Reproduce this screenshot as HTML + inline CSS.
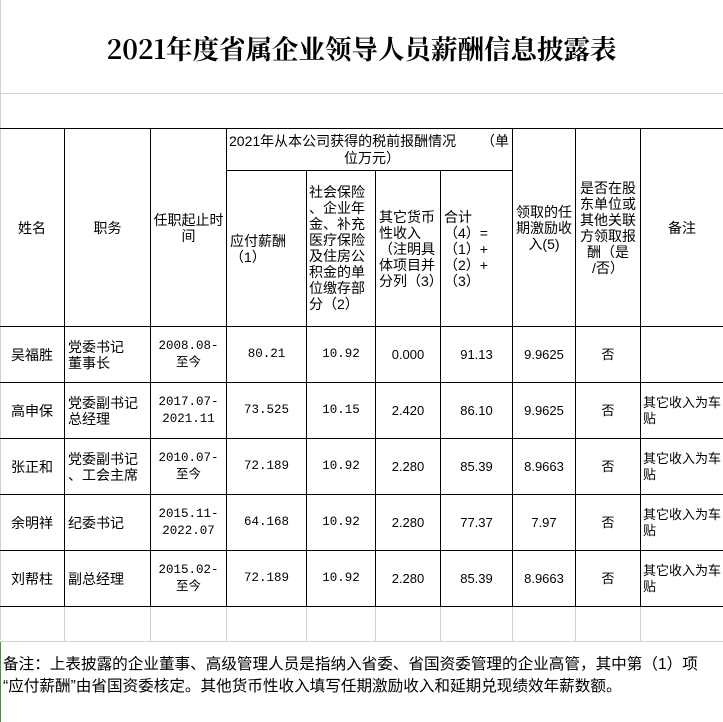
<!DOCTYPE html>
<html><head><meta charset="utf-8"><style>
body{margin:0;width:723px;height:722px;background:#fff;position:relative;overflow:hidden;font-family:"Liberation Sans","Noto Sans CJK SC",sans-serif;color:#000}
.a{position:absolute}
.h{position:absolute;height:1px;background:#000}
.v{position:absolute;width:1px;background:#000}
.g{background:#d0d0d0}
.c{position:absolute;display:flex;align-items:center;justify-content:center;text-align:center;font-size:13px;line-height:16px}
.l{justify-content:flex-start;text-align:left;padding-left:3px}
.m{font-family:"Liberation Mono","Noto Sans CJK SC",monospace;font-size:12.5px;line-height:17px}
.hd{font-size:14px;line-height:16px;white-space:nowrap}
</style></head><body>
<div class="a" style="left:0;top:28px;width:723px;text-align:center;font-family:'Noto Serif CJK SC','Liberation Serif',serif;font-weight:bold;font-size:26.5px">2021年度省属企业领导人员薪酬信息披露表</div>
<div class="h g" style="left:0;top:93px;width:723px"></div>
<div class="v g" style="left:0;top:0;height:640px"></div>
<div class="v" style="left:0;top:641px;height:81px;background:#3a9a3a"></div>
<div class="h" style="left:0;top:128px;width:723px"></div>
<div class="h" style="left:226px;top:170px;width:286px"></div>
<div class="h" style="left:0;top:326px;width:723px"></div>
<div class="h" style="left:0;top:382px;width:723px"></div>
<div class="h" style="left:0;top:438px;width:723px"></div>
<div class="h" style="left:0;top:494px;width:723px"></div>
<div class="h" style="left:0;top:550px;width:723px"></div>
<div class="h" style="left:0;top:606px;width:723px"></div>
<div class="h g" style="left:0;top:641px;width:723px"></div>
<div class="v" style="left:64px;top:128px;height:478px"></div>
<div class="v" style="left:150px;top:128px;height:478px"></div>
<div class="v" style="left:226px;top:128px;height:478px"></div>
<div class="v" style="left:306px;top:170px;height:436px"></div>
<div class="v" style="left:375px;top:170px;height:436px"></div>
<div class="v" style="left:440px;top:170px;height:436px"></div>
<div class="v" style="left:512px;top:128px;height:478px"></div>
<div class="v" style="left:575px;top:128px;height:478px"></div>
<div class="v" style="left:640px;top:128px;height:478px"></div>
<div class="v g" style="left:64px;top:607px;height:34px"></div>
<div class="v g" style="left:150px;top:607px;height:34px"></div>
<div class="v g" style="left:226px;top:607px;height:34px"></div>
<div class="v g" style="left:306px;top:607px;height:34px"></div>
<div class="v g" style="left:375px;top:607px;height:34px"></div>
<div class="v g" style="left:440px;top:607px;height:34px"></div>
<div class="v g" style="left:512px;top:607px;height:34px"></div>
<div class="v g" style="left:575px;top:607px;height:34px"></div>
<div class="v g" style="left:640px;top:607px;height:34px"></div>
<!-- header -->
<div class="c hd" style="left:0;top:129px;width:64px;height:197px">姓名</div>
<div class="c hd" style="left:65px;top:129px;width:85px;height:197px">职务</div>
<div class="c hd" style="left:151px;top:129px;width:75px;height:197px">任职起止时<br>间</div>
<div class="a" style="left:229px;top:133px;width:283px;font-size:14px;line-height:17px;white-space:nowrap">2021年从本公司获得的税前报酬情况<span style="position:absolute;left:252px">（单</span><br><span style="padding-left:115px">位万元）</span></div>
<div class="c l hd" style="left:227px;top:171px;width:76px;height:155px">应付薪酬<br>（1）</div>
<div class="a hd" style="left:309px;top:184px">社会保险<br>、企业年<br>金、补充<br>医疗保险<br>及住房公<br>积金的单<br>位缴存部<br>分（2）</div>
<div class="c l hd" style="left:376px;top:171px;width:62px;height:155px">其它货币<br>性收入<br>（注明具<br>体项目并<br>分列（3）</div>
<div class="c l hd" style="left:441px;top:171px;width:68px;height:155px">合计<br>（4）=<br>（1）+<br>（2）+<br>（3）</div>
<div class="c hd" style="left:513px;top:129px;width:62px;height:197px">领取的任<br>期激励收<br>入(5)</div>
<div class="c hd" style="left:576px;top:129px;width:64px;height:197px">是否在股<br>东单位或<br>其他关联<br>方领取报<br>酬（是<br>/否）</div>
<div class="c hd" style="left:641px;top:129px;width:82px;height:197px">备注</div>
<!-- rows -->
<div class="c" style="left:0;top:327px;width:64px;height:55px;font-size:14px">吴福胜</div>
<div class="c l" style="left:65px;top:327px;width:82px;height:55px;font-size:14px">党委书记<br>董事长</div>
<div class="c m" style="left:151px;top:327px;width:75px;height:55px">2008.08-<br>至今</div>
<div class="c m" style="left:227px;top:327px;width:79px;height:55px">80.21</div>
<div class="c m" style="left:307px;top:327px;width:68px;height:55px">10.92</div>
<div class="c" style="left:376px;top:327px;width:64px;height:55px">0.000</div>
<div class="c" style="left:441px;top:327px;width:71px;height:55px">91.13</div>
<div class="c" style="left:513px;top:327px;width:62px;height:55px">9.9625</div>
<div class="c" style="left:576px;top:327px;width:64px;height:55px">否</div>

<div class="c" style="left:0;top:383px;width:64px;height:55px;font-size:14px">高申保</div>
<div class="c l" style="left:65px;top:383px;width:82px;height:55px;font-size:14px">党委副书记<br>总经理</div>
<div class="c m" style="left:151px;top:383px;width:75px;height:55px">2017.07-<br>2021.11</div>
<div class="c m" style="left:227px;top:383px;width:79px;height:55px">73.525</div>
<div class="c m" style="left:307px;top:383px;width:68px;height:55px">10.15</div>
<div class="c" style="left:376px;top:383px;width:64px;height:55px">2.420</div>
<div class="c" style="left:441px;top:383px;width:71px;height:55px">86.10</div>
<div class="c" style="left:513px;top:383px;width:62px;height:55px">9.9625</div>
<div class="c" style="left:576px;top:383px;width:64px;height:55px">否</div>
<div class="c l" style="left:641px;top:383px;width:79px;height:55px;padding-left:2px">其它收入为车贴</div>

<div class="c" style="left:0;top:439px;width:64px;height:55px;font-size:14px">张正和</div>
<div class="c l" style="left:65px;top:439px;width:82px;height:55px;font-size:14px">党委副书记<br>、工会主席</div>
<div class="c m" style="left:151px;top:439px;width:75px;height:55px">2010.07-<br>至今</div>
<div class="c m" style="left:227px;top:439px;width:79px;height:55px">72.189</div>
<div class="c m" style="left:307px;top:439px;width:68px;height:55px">10.92</div>
<div class="c" style="left:376px;top:439px;width:64px;height:55px">2.280</div>
<div class="c" style="left:441px;top:439px;width:71px;height:55px">85.39</div>
<div class="c" style="left:513px;top:439px;width:62px;height:55px">8.9663</div>
<div class="c" style="left:576px;top:439px;width:64px;height:55px">否</div>
<div class="c l" style="left:641px;top:439px;width:79px;height:55px;padding-left:2px">其它收入为车贴</div>

<div class="c" style="left:0;top:495px;width:64px;height:55px;font-size:14px">余明祥</div>
<div class="c l" style="left:65px;top:495px;width:82px;height:55px;font-size:14px">纪委书记</div>
<div class="c m" style="left:151px;top:495px;width:75px;height:55px">2015.11-<br>2022.07</div>
<div class="c m" style="left:227px;top:495px;width:79px;height:55px">64.168</div>
<div class="c m" style="left:307px;top:495px;width:68px;height:55px">10.92</div>
<div class="c" style="left:376px;top:495px;width:64px;height:55px">2.280</div>
<div class="c" style="left:441px;top:495px;width:71px;height:55px">77.37</div>
<div class="c" style="left:513px;top:495px;width:62px;height:55px">7.97</div>
<div class="c" style="left:576px;top:495px;width:64px;height:55px">否</div>
<div class="c l" style="left:641px;top:495px;width:79px;height:55px;padding-left:2px">其它收入为车贴</div>

<div class="c" style="left:0;top:551px;width:64px;height:55px;font-size:14px">刘帮柱</div>
<div class="c l" style="left:65px;top:551px;width:82px;height:55px;font-size:14px">副总经理</div>
<div class="c m" style="left:151px;top:551px;width:75px;height:55px">2015.02-<br>至今</div>
<div class="c m" style="left:227px;top:551px;width:79px;height:55px">72.189</div>
<div class="c m" style="left:307px;top:551px;width:68px;height:55px">10.92</div>
<div class="c" style="left:376px;top:551px;width:64px;height:55px">2.280</div>
<div class="c" style="left:441px;top:551px;width:71px;height:55px">85.39</div>
<div class="c" style="left:513px;top:551px;width:62px;height:55px">8.9663</div>
<div class="c" style="left:576px;top:551px;width:64px;height:55px">否</div>
<div class="c l" style="left:641px;top:551px;width:79px;height:55px;padding-left:2px">其它收入为车贴</div>

<div class="a" style="left:3px;top:654px;width:720px;font-size:15.6px;line-height:22px;white-space:nowrap">备注：上表披露的企业董事、高级管理人员是指纳入省委、省国资委管理的企业高管，其中第（1）项<br>“应付薪酬”由省国资委核定。其他货币性收入填写任期激励收入和延期兑现绩效年薪数额。</div>
</body></html>
